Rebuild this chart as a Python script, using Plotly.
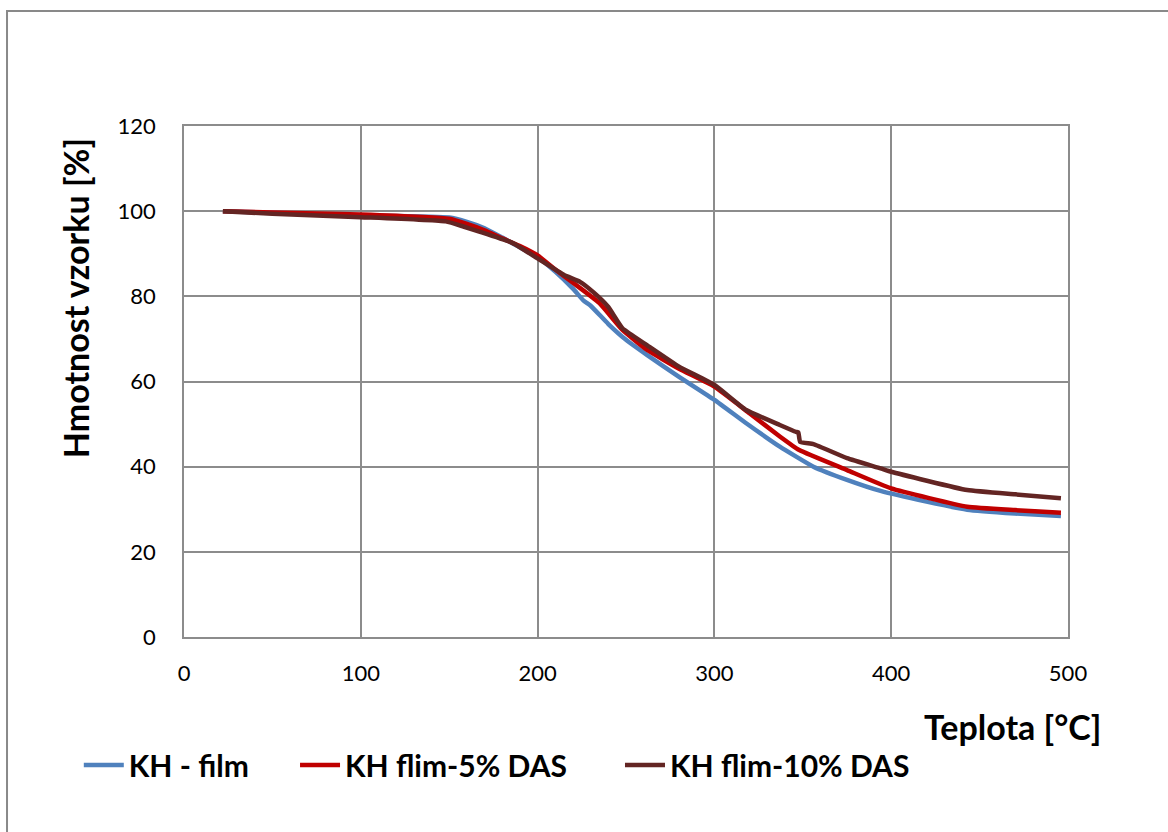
import plotly.graph_objects as go

# ---- data ----
film_T = [22, 50, 100, 150, 160, 170, 180, 190, 200, 210, 220, 226, 230, 240, 250, 262, 280, 300, 318, 337, 356, 375, 394, 420, 443, 470, 496]
film_V = [100, 99.6, 99.0, 98.5, 97.5, 96.0, 93.8, 91.5, 89.2, 85.8, 81.8, 79.0, 77.8, 73.5, 69.8, 66.2, 61.1, 55.7, 50.2, 44.7, 40.0, 36.9, 34.3, 31.8, 29.9, 29.0, 28.4]

das5_T = [22, 50, 100, 150, 160, 170, 180, 190, 200, 210, 220, 235, 248, 262, 280, 300, 320, 337, 348, 375, 400, 443, 470, 496]
das5_V = [100, 99.7, 99.2, 98.2, 97.0, 95.5, 93.6, 91.8, 89.6, 86.3, 83.2, 78.4, 72.1, 67.4, 63.0, 58.8, 52.5, 47.1, 43.9, 39.2, 34.9, 30.6, 29.8, 29.2]

das10_T = [22, 50, 100, 148, 158, 167, 186, 200, 215, 224, 232, 240, 248, 262, 280, 300, 318, 337, 346, 347.5, 348.5, 356, 375, 394, 400, 443, 470, 496]
das10_V = [100, 99.4, 98.6, 97.6, 96.4, 95.2, 92.5, 88.9, 85.0, 83.4, 80.8, 77.5, 72.5, 68.5, 63.5, 59.2, 53.3, 49.8, 48.2, 48.0, 45.8, 45.3, 42.0, 39.6, 38.8, 34.5, 33.5, 32.6]

series_names = ["KH - film", "KH flim-5% DAS", "KH flim-10% DAS"]
series_colors = ["#4F81BD", "#C00000", "#632523"]

x_ticks = [0, 100, 200, 300, 400, 500]
y_ticks = [0, 20, 40, 60, 80, 100, 120]

FONT = "Lato"

legend_ids = ["legend", "legend2", "legend3"]
legend_x = [-0.119, 0.1256, 0.4932]

fig = go.Figure()
for T, V, name, col, lg in zip([film_T, das5_T, das10_T], [film_V, das5_V, das10_V],
                                series_names, series_colors, legend_ids):
    fig.add_trace(go.Scatter(x=T, y=V, mode="lines", name=name, legend=lg,
                             line=dict(color=col, width=4.5, shape="spline", smoothing=0.4)))

grid = "#8C8C8C"
legend_style = dict(orientation="h", y=-0.2505, xanchor="left", yanchor="middle",
                    font=dict(size=30, family=FONT, color="black", weight="bold"),
                    bgcolor="rgba(0,0,0,0)", itemwidth=40)

fig.update_layout(
    width=1168, height=832,
    paper_bgcolor="white", plot_bgcolor="white",
    margin=dict(l=184, r=100, t=126, b=195),
    font=dict(family=FONT, color="black", size=22),
    xaxis=dict(range=[0, 500], tickvals=x_ticks, showgrid=True, gridcolor=grid, gridwidth=1.5,
               showline=True, linecolor=grid, linewidth=1.5, mirror=True, zeroline=False,
               ticks="", tickfont=dict(size=22, family=FONT), ticklabelstandoff=16),
    yaxis=dict(range=[0, 120], tickvals=y_ticks, showgrid=True, gridcolor=grid, gridwidth=1.5,
               showline=True, linecolor=grid, linewidth=1.5, mirror=True, zeroline=False,
               ticks="", tickfont=dict(size=22, family=FONT), ticklabelstandoff=22),
    showlegend=True,
    legend=dict(x=legend_x[0], **legend_style),
    legend2=dict(x=legend_x[1], **legend_style),
    legend3=dict(x=legend_x[2], **legend_style),
    shapes=[dict(type="rect", xref="paper", yref="paper", x0=-0.2002, x1=1.3,
                 y0=-0.6, y1=1.225, line=dict(color="#898989", width=2))],
    annotations=[
        dict(text="<b>Hmotnost vzorku [%]</b>", xref="paper", yref="paper", x=-0.1233, y=0.663,
             textangle=-90, showarrow=False, font=dict(size=34, family=FONT),
             xanchor="center", yanchor="middle"),
        dict(text="<b>Teplota [°C]</b>", xref="paper", yref="paper", x=1.0407, y=-0.176,
             showarrow=False, font=dict(size=34, family=FONT), xanchor="right", yanchor="middle"),
    ],
)

fig.write_html("out.html", config={"displayModeBar": False},
               post_script="document.body.style.margin='0';document.body.style.overflow='hidden';")
